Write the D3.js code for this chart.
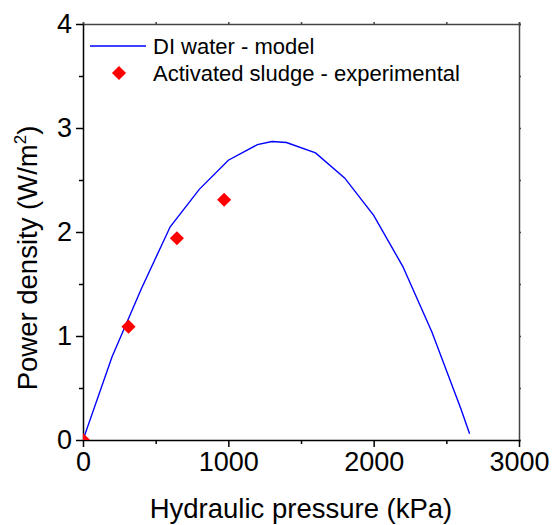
<!DOCTYPE html>
<html>
<head>
<meta charset="utf-8">
<script src="https://cdn.jsdelivr.net/npm/d3@7"></script>
<style>
  html, body { margin: 0; padding: 0; background: #fff; }
  svg { display: block; }
  text { font-family: "Liberation Sans", Arial, sans-serif; fill: #000; }
</style>
</head>
<body>
<script>
// Model curve: DI water power density vs hydraulic pressure
const modelPressure = [0, 200, 400, 600, 800, 1000, 1200, 1300, 1400, 1600, 1800, 2000, 2200, 2400, 2600, 2660];
const modelPower    = [0, 0.80, 1.45, 2.05, 2.41, 2.69, 2.84, 2.87, 2.86, 2.76, 2.52, 2.16, 1.67, 1.04, 0.30, 0.06];

// Experimental points: activated sludge
const expPressure = [0, 313, 646, 971];
const expPower    = [0, 1.09, 1.94, 2.31];

const xMajorTicks = [0, 1000, 2000, 3000];
const xMinorTicks = [500, 1500, 2500];
const yMajorTicks = [0, 1, 2, 3, 4];
const yMinorTicks = [0.5, 1.5, 2.5, 3.5];

const seriesNames = ["DI water - model", "Activated sludge - experimental"];

const W = 553, H = 525;
const plot = { left: 83, right: 519, top: 24, bottom: 440 };

const svg = d3.select("body").append("svg").attr("width", W).attr("height", H);

const x = d3.scaleLinear().domain([0, 3000]).range([plot.left, plot.right]);
const y = d3.scaleLinear().domain([0, 4]).range([plot.bottom, plot.top]);

svg.append("defs").append("clipPath").attr("id", "plotClip")
  .append("rect")
  .attr("x", plot.left).attr("y", plot.top)
  .attr("width", plot.right - plot.left).attr("height", plot.bottom - plot.top);

// Frame axes (top/right mirrored, small ticks, no labels)
const topAxis = d3.axisTop(x).tickValues(xMajorTicks.concat(xMinorTicks)).tickSize(2).tickFormat("");
const rightAxis = d3.axisRight(y).tickValues(yMajorTicks.concat(yMinorTicks)).tickSize(2).tickFormat("");
svg.append("g").attr("transform", `translate(0,${plot.top})`).call(topAxis)
  .call(g => g.selectAll("path,line").attr("stroke", "#444").attr("stroke-width", 1.5));
svg.append("g").attr("transform", `translate(${plot.right},0)`).call(rightAxis)
  .call(g => g.selectAll("path,line").attr("stroke", "#444").attr("stroke-width", 1.5));

// Bottom axis
const xAxis = d3.axisBottom(x).tickValues(xMajorTicks).tickSize(7).tickSizeOuter(0).tickPadding(5).tickFormat(d3.format("d"));
const gx = svg.append("g").attr("transform", `translate(0,${plot.bottom})`).call(xAxis);
gx.selectAll("path,line").attr("stroke", "#000").attr("stroke-width", 1.5);
gx.selectAll("text").attr("font-size", 27).attr("font-family", "'Liberation Sans', Arial, sans-serif");
const xMinor = d3.axisBottom(x).tickValues(xMinorTicks).tickSize(4).tickFormat("");
svg.append("g").attr("transform", `translate(0,${plot.bottom})`).call(xMinor)
  .call(g => g.select("path").remove())
  .call(g => g.selectAll("line").attr("stroke", "#000").attr("stroke-width", 1.5));

// Left axis
const yAxis = d3.axisLeft(y).tickValues(yMajorTicks).tickSize(7).tickSizeOuter(0).tickPadding(4).tickFormat(d3.format("d"));
const gy = svg.append("g").attr("transform", `translate(${plot.left},0)`).call(yAxis);
gy.selectAll("path,line").attr("stroke", "#000").attr("stroke-width", 1.5);
gy.selectAll("text").attr("font-size", 27).attr("font-family", "'Liberation Sans', Arial, sans-serif");
const yMinor = d3.axisLeft(y).tickValues(yMinorTicks).tickSize(4).tickFormat("");
svg.append("g").attr("transform", `translate(${plot.left},0)`).call(yMinor)
  .call(g => g.select("path").remove())
  .call(g => g.selectAll("line").attr("stroke", "#000").attr("stroke-width", 1.5));

// Axis titles
svg.append("text")
  .attr("x", (plot.left + plot.right) / 2 - 0).attr("y", 518)
  .attr("text-anchor", "middle").attr("font-size", 27.5)
  .text("Hydraulic pressure (kPa)");

const yTitle = svg.append("text")
  .attr("transform", `translate(37,${258}) rotate(-90)`)
  .attr("text-anchor", "middle").attr("font-size", 27.5);
yTitle.append("tspan").text("Power density (W/m");
yTitle.append("tspan").attr("font-size", 17).attr("dy", -11).text("2");
yTitle.append("tspan").attr("dy", 11).text(")");

// Model line
const modelData = modelPressure.map((p, i) => ({ p, v: modelPower[i] }));
svg.append("path")
  .datum(modelData)
  .attr("clip-path", "url(#plotClip)")
  .attr("fill", "none").attr("stroke", "#0000ff").attr("stroke-width", 1.4)
  .attr("d", d3.line().x(d => x(d.p)).y(d => y(d.v)));

// Experimental diamonds
const diamond = d3.symbol().type(d3.symbolSquare).size(100);
const expData = expPressure.map((p, i) => ({ p, v: expPower[i] }));
svg.append("g").attr("clip-path", "url(#plotClip)")
  .selectAll("path").data(expData).join("path")
  .attr("d", diamond)
  .attr("fill", "#ff0000")
  .attr("transform", d => `translate(${x(d.p)},${y(d.v)}) rotate(45)`);

// Legend
const legend = svg.append("g");
legend.append("line")
  .attr("x1", 90).attr("x2", 146).attr("y1", 46).attr("y2", 46)
  .attr("stroke", "#0000ff").attr("stroke-width", 1.4);
legend.append("text").attr("x", 153).attr("y", 54).attr("font-size", 22).text(seriesNames[0]);
legend.append("path").attr("d", diamond).attr("fill", "#ff0000")
  .attr("transform", "translate(119,73) rotate(45)");
legend.append("text").attr("x", 153).attr("y", 81).attr("font-size", 22).text(seriesNames[1]);
</script>
</body>
</html>
